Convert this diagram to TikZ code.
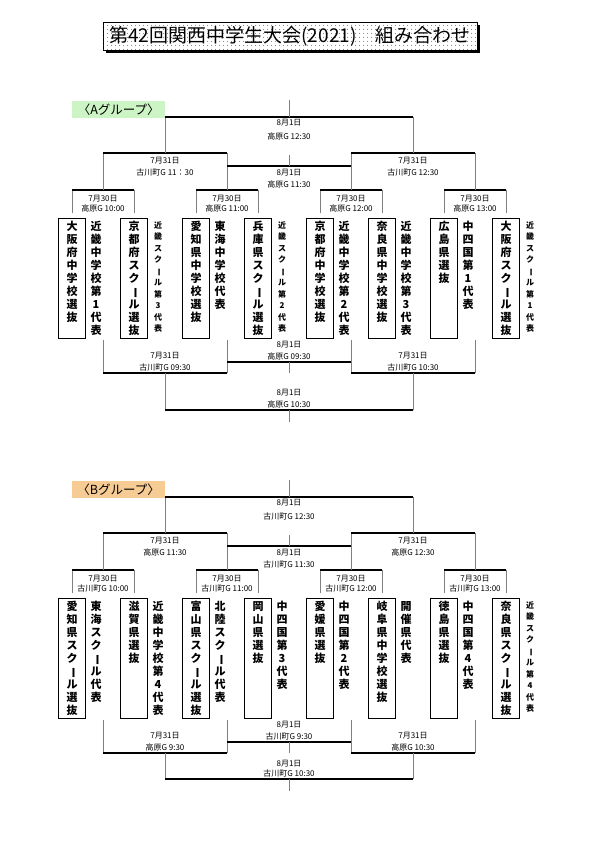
\documentclass[tikz,border=0pt]{standalone}
\usepackage{fontspec}
\newfontfamily\jp{Noto Sans CJK JP}
\usetikzlibrary{positioning, patterns.meta, shadows}

\definecolor{grpa}{RGB}{205,244,196}
\definecolor{grpb}{RGB}{246,203,148}

% vertical writing: one character per line
\def\tateend{TATEEND}
\def\tatenext#1{\ifx#1\tateend\else#1\par\expandafter\tatenext\fi}
\newcommand{\tate}[1]{\expandafter\tatenext#1\tateend}
\newcommand{\bo}{\rotatebox[origin=c]{-90}{ー}}

\tikzset{
  hline/.style={black, line width=1.3pt},
  vline/.style={gray, line width=0.9pt},
  teambox/.style={draw, line width=0.8pt, anchor=north, minimum width=27pt, minimum height=120pt, inner sep=0pt},
  tname/.style={anchor=north, inner sep=0pt, text width=14pt, align=center},
  datetext/.style={align=center, inner sep=0pt, font=\jp\fontsize{8}{12}\selectfont},
  grouplabel/.style={anchor=north west, minimum width=93pt, minimum height=17pt, inner sep=0pt, font=\jp\fontsize{12.5}{13}\selectfont},
  titlebox/.style={draw, line width=0.8pt, fill=white, minimum width=374pt, minimum height=28pt, inner sep=0pt,
    postaction={pattern={Dots[distance=4pt, radius=0.55pt]}, pattern color=black!80},
    drop shadow={shadow xshift=3pt, shadow yshift=-3pt, fill=black, opacity=1},
    font=\jp\fontsize{19}{19}\selectfont}
}

\begin{document}
\begin{tikzpicture}[x=1pt, y=-1pt]
  \useasboundingbox (0,0) rectangle (595,841);

  % title with shadow
  \node[titlebox] (title) at (290,36) {第42回関西中学生大会(2021)　組み合わせ};

  % group labels
  \node[grouplabel, fill=grpa] (labA) at (72,101) {〈Aグループ〉};
  \node[grouplabel, fill=grpb] (labB) at (72,481) {〈Bグループ〉};

  % boxed teams
  \foreach \nm [count=\i] in {大阪府中学校選抜, 京都府スク\bo ル選抜, 愛知県中学校選抜, 兵庫県スク\bo ル選抜,
      京都府中学校選抜, 奈良県中学校選抜, 広島県選抜, 大阪府スク\bo ル選抜} {
    \node[teambox] (A\i) at ({10+62*\i},218) {};
    \node[tname, font=\jp\bfseries\fontsize{11}{13}\selectfont] (At\i) at ([yshift=-3pt]A\i.north) {\tate{\nm}};
  }
  \foreach \nm [count=\i] in {愛知県スク\bo ル選抜, 滋賀県選抜, 富山県スク\bo ル選抜, 岡山県選抜,
      愛媛県選抜, 岐阜県中学校選抜, 徳島県選抜, 奈良県スク\bo ル選抜} {
    \node[teambox] (B\i) at ({10+62*\i},598) {};
    \node[tname, font=\jp\bfseries\fontsize{11}{13}\selectfont] (Bt\i) at ([yshift=-3pt]B\i.north) {\tate{\nm}};
  }

  % other teams, no box
  \foreach \nm/\fs/\ls [count=\i] in {近畿中学校第1代表/11/13, 近畿スク\bo ル第3代表/8/11.5, 東海中学校代表/11/13,
      近畿スク\bo ル第2代表/8/11.5, 近畿中学校第2代表/11/13, 近畿中学校第3代表/11/13, 中四国第1代表/11/13,
      近畿スク\bo ル第1代表/8/11.5}
    \node[tname, font=\jp\bfseries\fontsize{\fs}{\ls}\selectfont] (Ao\i) at ([xshift=24pt, yshift=-3pt]A\i.north) {\tate{\nm}};
  \foreach \nm/\fs/\ls [count=\i] in {東海スク\bo ル代表/11/13, 近畿中学校第4代表/11/13, 北陸スク\bo ル代表/11/13,
      中四国第3代表/11/13, 中四国第2代表/11/13, 開催県代表/11/13, 中四国第4代表/11/13,
      近畿スク\bo ル第4代表/8/11.5}
    \node[tname, font=\jp\bfseries\fontsize{\fs}{\ls}\selectfont] (Bo\i) at ([xshift=24pt, yshift=-3pt]B\i.north) {\tate{\nm}};

  % brackets, same shape for both groups
  \foreach \g/\yo/\fy in {A/0/410, B/380/399} {
    \begin{scope}[shift={(0,\yo)}]
      % first round
      \foreach \k [evaluate=\k as \l using int(2*\k-1), evaluate=\k as \r using int(2*\k)] in {1,...,4} {
        \coordinate (\g m\k) at ({124*\k-21},190);
        \coordinate (\g l\k) at ({124*\k-21},340);
        \draw[vline, shorten <=5pt] (\g\l.north) -- (\g\l.north |- \g m\k);
        \draw[vline, shorten <=5pt] (\g\r.north) -- (\g\r.north |- \g m\k);
        \draw[hline] (\g\l.north |- \g m\k) -- (\g\r.north |- \g m\k);
      }
      % second round and middle match
      \coordinate (\g s1) at (165,153);
      \coordinate (\g s2) at (413,153);
      \coordinate (\g c) at (289,166);
      \coordinate (\g f) at (289,117);
      \foreach \k/\s in {1/1, 2/1, 3/2, 4/2}
        \draw[vline] (\g m\k) -- (\g m\k |- \g s\s);
      \draw[hline] (\g m1 |- \g s1) -- (\g m2 |- \g s1);
      \draw[hline] (\g m3 |- \g s2) -- (\g m4 |- \g s2);
      \draw[hline] (\g m2 |- \g c) -- (\g m3 |- \g c);
      \draw[vline] (\g c) -- ([yshift=11pt]\g c);
      % final
      \foreach \s in {1,2}
        \draw[vline] (\g s\s) -- (\g s\s |- \g f);
      \draw[hline] (\g s1 |- \g f) -- (\g s2 |- \g f);
      \draw[vline] (\g f) -- ([yshift=17pt]\g f);
      % lower bracket
      \coordinate (\g u1) at (165,373);
      \coordinate (\g u2) at (413,373);
      \coordinate (\g v) at (289,362);
      \coordinate (\g g) at (289,\fy);
      \foreach \k/\s in {1/1, 2/1, 3/2, 4/2}
        \draw[vline] (\g l\k) -- (\g l\k |- \g u\s);
      \draw[hline] (\g l1 |- \g u1) -- (\g l2 |- \g u1);
      \draw[hline] (\g l3 |- \g u2) -- (\g l4 |- \g u2);
      \draw[hline] (\g l2 |- \g v) -- (\g l3 |- \g v);
      \draw[vline] (\g v) -- ([yshift=-11pt]\g v);
      \foreach \s in {1,2}
        \draw[vline] (\g u\s) -- (\g u\s |- \g g);
      \draw[hline] (\g u1 |- \g g) -- (\g u2 |- \g g);
      \draw[vline] (\g g) -- ([yshift=-12pt]\g g);
    \end{scope}
  }

  % dates and venues
  \foreach \k/\tm in {1/10:00, 2/11:00, 3/12:00, 4/13:00} {
    \node[datetext, font=\jp\fontsize{8}{10}\selectfont] (Ad\k) at ([yshift=-14pt]Am\k) {7月30日\\高原G \tm};
    \node[datetext, font=\jp\fontsize{8}{10}\selectfont] (Bd\k) at ([yshift=-14pt]Bm\k) {7月30日\\古川町G \tm};
  }
  \node[datetext] (Ads1) at ([yshift=-14pt]As1) {7月31日\\古川町G 11：30};
  \node[datetext] (Ads2) at ([yshift=-14pt]As2) {7月31日\\古川町G 12:30};
  \node[datetext] (Adc) at ([yshift=-13pt]Ac) {8月1日\\高原G 11:30};
  \node[datetext, font=\jp\fontsize{8}{14}\selectfont] (Adf) at ([yshift=-13pt]Af) {8月1日\\高原G 12:30};
  \node[datetext] (Adu1) at ([yshift=11pt]Au1) {7月31日\\古川町G 09:30};
  \node[datetext] (Adu2) at ([yshift=11pt]Au2) {7月31日\\古川町G 10:30};
  \node[datetext] (Adv) at ([yshift=11pt]Av) {8月1日\\高原G 09:30};
  \node[datetext] (Adg) at ([yshift=11pt]Ag) {8月1日\\高原G 10:30};

  \node[datetext] (Bds1) at ([yshift=-14pt]Bs1) {7月31日\\高原G 11:30};
  \node[datetext] (Bds2) at ([yshift=-14pt]Bs2) {7月31日\\高原G 12:30};
  \node[datetext] (Bdc) at ([yshift=-13pt]Bc) {8月1日\\古川町G 11:30};
  \node[datetext, font=\jp\fontsize{8}{14}\selectfont] (Bdf) at ([yshift=-13pt]Bf) {8月1日\\古川町G 12:30};
  \node[datetext] (Bdu1) at ([yshift=11pt]Bu1) {7月31日\\高原G 9:30};
  \node[datetext] (Bdu2) at ([yshift=11pt]Bu2) {7月31日\\高原G 10:30};
  \node[datetext] (Bdv) at ([yshift=11pt]Bv) {8月1日\\古川町G 9:30};
  \node[datetext, font=\jp\fontsize{8}{9.5}\selectfont] (Bdg) at ([yshift=10.5pt]Bg) {8月1日\\古川町G 10:30};
\end{tikzpicture}
\end{document}
